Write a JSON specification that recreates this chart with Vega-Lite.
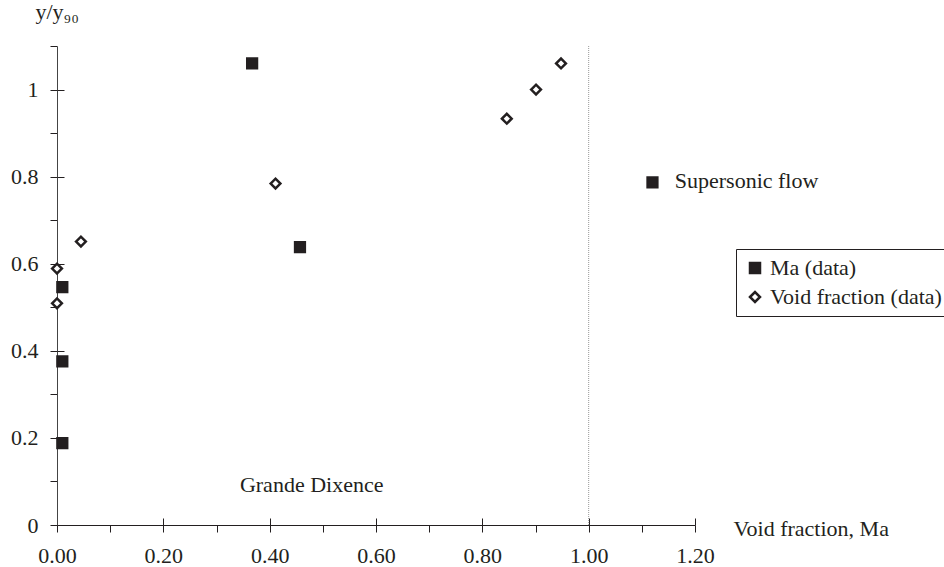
{
  "$schema": "https://vega.github.io/schema/vega-lite/v6.json",
  "width": 638,
  "height": 479,
  "autosize": {"type": "none"},
  "padding": {"left": 57, "top": 46, "right": 249, "bottom": 42},
  "background": "white",
  "config": {"font": "Liberation Serif", "view": {"stroke": null}},
  "datasets": {
    "points": [
      {"series": "Ma (data)", "x": 0.01, "y": 0.188},
      {"series": "Ma (data)", "x": 0.01, "y": 0.376},
      {"series": "Ma (data)", "x": 0.01, "y": 0.546},
      {"series": "Ma (data)", "x": 0.367, "y": 1.06},
      {"series": "Ma (data)", "x": 0.457, "y": 0.638},
      {"series": "Ma (data)", "x": 1.12, "y": 0.787},
      {"series": "Void fraction (data)", "x": 0.0, "y": 0.589},
      {"series": "Void fraction (data)", "x": 0.0, "y": 0.509},
      {"series": "Void fraction (data)", "x": 0.045, "y": 0.651},
      {"series": "Void fraction (data)", "x": 0.411, "y": 0.784},
      {"series": "Void fraction (data)", "x": 0.846, "y": 0.933},
      {"series": "Void fraction (data)", "x": 0.901, "y": 1.0},
      {"series": "Void fraction (data)", "x": 0.948, "y": 1.06}
    ],
    "notes": [
      {"x": 1.297, "y": 0.79, "label": "Supersonic flow"},
      {"x": 0.479, "y": 0.092, "label": "Grande Dixence"}
    ]
  },
  "layer": [
    {
      "data": {"values": [{}]},
      "mark": {"type": "rule", "stroke": "#9a9a9a", "strokeWidth": 1, "strokeDash": [1, 1]},
      "encoding": {
        "x": {"datum": 1, "type": "quantitative", "scale": {"domain": [0, 1.2], "nice": false, "zero": false}, "axis": null}
      }
    },
    {
      "data": {"name": "points"},
      "mark": {"type": "point", "filled": true, "strokeWidth": 2.5, "size": 95, "opacity": 1},
      "encoding": {
        "x": {
          "field": "x", "type": "quantitative",
          "scale": {"domain": [0, 1.2], "nice": false, "zero": false},
          "axis": {
            "orient": "bottom",
            "values": [0, 0.1, 0.2, 0.3, 0.4, 0.5, 0.6, 0.7, 0.8, 0.9, 1.0, 1.1, 1.2],
            "tickSize": 7, "tickColor": "#231f20", "domainColor": "#231f20",
            "labelExpr": "round(datum.value*10)%2==0 ? format(datum.value,'.2f') : ''",
            "labelFontSize": 22, "labelColor": "#231f20", "labelPadding": 13,
            "labelOverlap": false, "labelFlush": false, "labelBound": false,
            "grid": false,
            "title": "Void fraction, Ma", "titleFontSize": 22, "titleFontWeight": "normal", "titleColor": "#231f20",
            "titleAngle": 0, "titleX": 676, "titleY": 3, "titleAlign": "left", "titleBaseline": "middle"
          }
        },
        "y": {
          "field": "y", "type": "quantitative",
          "scale": {"domain": [0, 1.1], "nice": false, "zero": false},
          "axis": {
            "orient": "left",
            "values": [0, 0.1, 0.2, 0.3, 0.4, 0.5, 0.6, 0.7, 0.8, 0.9, 1.0, 1.1],
            "tickSize": 7, "tickColor": "#231f20", "domainColor": "#444444",
            "labelExpr": "round(datum.value*10)%2==0 && datum.value < 1.05 ? format(datum.value,'~g') : ''",
            "labelFontSize": 22, "labelColor": "#231f20", "labelPadding": 12,
            "labelOverlap": false, "labelFlush": false, "labelBound": false,
            "grid": false,
            "title": "y/y₉₀", "titleFontSize": 22, "titleFontWeight": "normal", "titleColor": "#231f20",
            "titleAngle": 0, "titleX": -22, "titleY": -28, "titleAlign": "left", "titleBaseline": "alphabetic"
          }
        },
        "shape": {
          "field": "series", "type": "nominal",
          "scale": {"domain": ["Ma (data)", "Void fraction (data)"], "range": ["square", "diamond"]},
          "legend": {
            "orient": "none", "legendX": 679, "legendY": 203, "title": null,
            "labelFontSize": 22, "labelColor": "#231f20", "labelLimit": 400, "strokeColor": "#231f20", "fillColor": "white",
            "padding": 8, "symbolSize": 100, "symbolStrokeWidth": 2.5,
            "rowPadding": 7, "labelOffset": 4
          }
        },
        "fill": {
          "field": "series", "type": "nominal",
          "scale": {"domain": ["Ma (data)", "Void fraction (data)"], "range": ["#231f20", "#ffffff"]},
          "legend": {
            "orient": "none", "legendX": 679, "legendY": 203, "title": null,
            "labelFontSize": 22, "labelColor": "#231f20", "labelLimit": 400, "strokeColor": "#231f20", "fillColor": "white",
            "padding": 8, "symbolSize": 100, "symbolStrokeWidth": 2.5,
            "rowPadding": 7, "labelOffset": 4
          }
        },
        "stroke": {
          "field": "series", "type": "nominal",
          "scale": {"domain": ["Ma (data)", "Void fraction (data)"], "range": ["#231f20", "#231f20"]},
          "legend": {
            "orient": "none", "legendX": 679, "legendY": 203, "title": null,
            "labelFontSize": 22, "labelColor": "#231f20", "labelLimit": 400, "strokeColor": "#231f20", "fillColor": "white",
            "padding": 8, "symbolSize": 100, "symbolStrokeWidth": 2.5,
            "rowPadding": 7, "labelOffset": 4
          }
        }
      }
    },
    {
      "data": {"name": "notes"},
      "mark": {"type": "text", "fontSize": 22, "color": "#231f20", "align": "center", "baseline": "middle"},
      "encoding": {
        "x": {
          "field": "x", "type": "quantitative",
          "scale": {"domain": [0, 1.2], "nice": false, "zero": false},
          "axis": {
            "orient": "bottom", "values": [0, 0.2, 0.4, 0.6, 0.8, 1.0, 1.2],
            "offset": -7, "tickSize": 7, "tickColor": "#231f20",
            "labels": false, "domain": false, "grid": false, "title": null
          }
        },
        "y": {
          "field": "y", "type": "quantitative",
          "scale": {"domain": [0, 1.1], "nice": false, "zero": false},
          "axis": {
            "orient": "left", "values": [0, 0.2, 0.4, 0.6, 0.8, 1.0],
            "offset": -7, "tickSize": 7, "tickColor": "#231f20",
            "labels": false, "domain": false, "grid": false, "title": null
          }
        },
        "text": {"field": "label"}
      }
    }
  ],
  "resolve": {"axis": {"x": "independent", "y": "independent"}}
}
